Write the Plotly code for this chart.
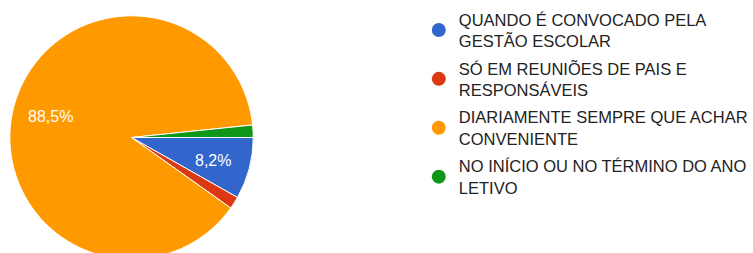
import math
import plotly.graph_objects as go

labels = [
    "QUANDO É CONVOCADO PELA<br>GESTÃO ESCOLAR",
    "SÓ EM REUNIÕES DE PAIS E<br>RESPONSÁVEIS",
    "DIARIAMENTE SEMPRE QUE ACHAR<br>CONVENIENTE",
    "NO INÍCIO OU NO TÉRMINO DO ANO<br>LETIVO",
]
values = [5, 1, 54, 1]
colors = ["#3366CC", "#DC3912", "#FF9900", "#109618"]

W, H = 753, 266
FONT = "Arial, 'Liberation Sans', sans-serif"

# pie geometry (pixels)
PIE_L, PIE_R, PIE_T, PIE_B = 10, 257, 14, 261
cx, cy = (PIE_L + PIE_R) / 2, (PIE_T + PIE_B) / 2
R = (PIE_R - PIE_L) / 2

fig = go.Figure()
fig.add_trace(go.Pie(
    labels=labels,
    values=values,
    textinfo="none",
    marker=dict(colors=colors, line=dict(color="white", width=1)),
    sort=False,
    direction="clockwise",
    rotation=90,
    showlegend=False,
    hoverinfo="label+percent",
    domain=dict(x=[PIE_L / W, PIE_R / W], y=[1 - PIE_B / H, 1 - PIE_T / H]),
))

# percentage labels placed at slice mid-angles (clockwise from 3 o'clock)
total = sum(values)
cum = 0
for v in values:
    frac = v / total
    mid = (cum + frac / 2) * 2 * math.pi
    cum += frac
    if frac < 0.05:
        continue
    r = 0.69 * R
    px = cx + r * math.cos(mid)
    py = cy + r * math.sin(mid) + 1
    fig.add_annotation(
        x=px / W, y=1 - py / H, xref="paper", yref="paper",
        xanchor="center", yanchor="middle",
        text=f"{frac * 100:.1f}%".replace(".", ","),
        showarrow=False,
        font=dict(family=FONT, size=16, color="white"),
    )

# legend entries (circle symbols) matching the pie slices
for i, (lab, col) in enumerate(zip(labels, colors)):
    fig.add_trace(go.Scatter(
        x=[None], y=[None], mode="markers", name=lab,
        marker=dict(color=col, size=14, symbol="circle"),
        showlegend=True, legendgroup=f"g{i}",
    ))

fig.update_layout(
    width=W, height=H,
    margin=dict(l=0, r=0, t=0, b=0),
    paper_bgcolor="white",
    plot_bgcolor="white",
    xaxis=dict(visible=False),
    yaxis=dict(visible=False),
    showlegend=True,
    legend=dict(
        x=425 / W, y=1 - 2 / H, xanchor="left", yanchor="top",
        font=dict(family=FONT, size=16.5, color="#222222"),
        itemsizing="trace",
        tracegroupgap=3,
        bgcolor="rgba(0,0,0,0)",
    ),
)
fig.write_html(
    "out.html",
    config={"displayModeBar": False},
    post_script="document.body.style.margin='0';document.body.style.overflow='hidden';",
)
